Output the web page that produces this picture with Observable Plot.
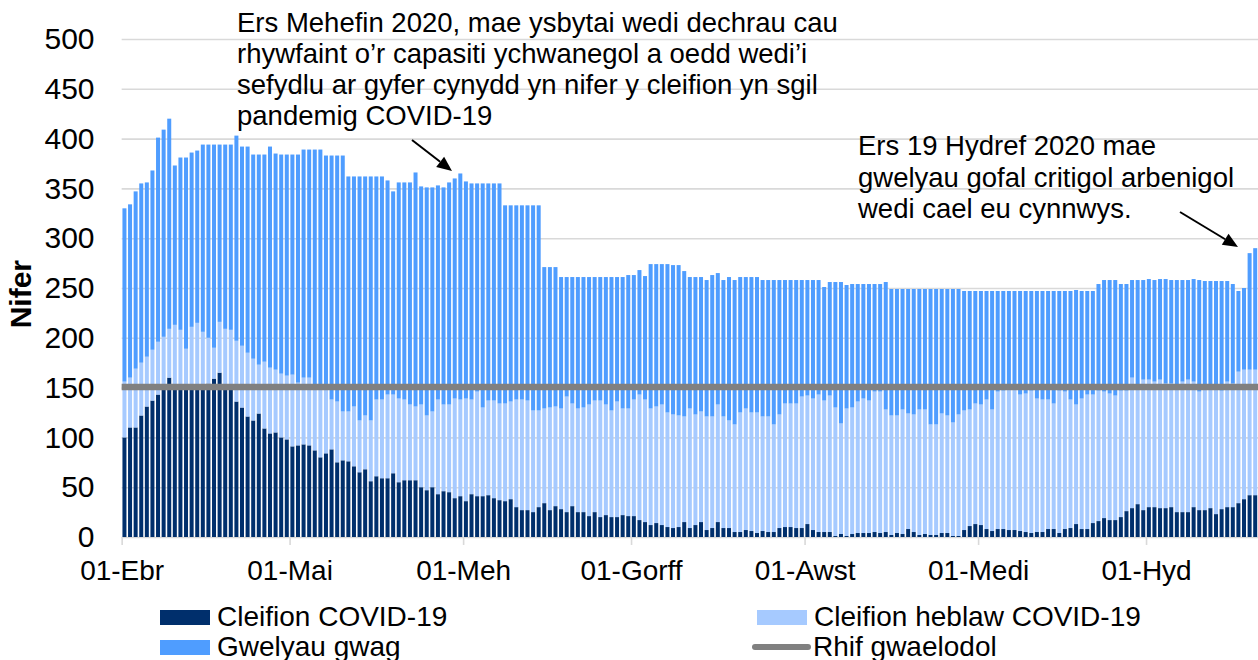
<!DOCTYPE html>
<html>
<head>
<meta charset="utf-8">
<script src="https://cdn.jsdelivr.net/npm/d3@7"></script>
<script src="https://cdn.jsdelivr.net/npm/@observablehq/plot@0.6"></script>
<style>
  html, body { margin: 0; padding: 0; background: #fff; }
  #wrap { width: 1258px; height: 660px; overflow: hidden; font-family: 'Liberation Sans', Arial, sans-serif; }
  svg { display: block; }
</style>
</head>
<body>
<div id="wrap"></div>
<script>
// ---- Data ----
const startDay = "2020-04-01";
const seriesNames = ["Cleifion COVID-19", "Cleifion heblaw COVID-19", "Gwelyau gwag"];
const seriesColors = ["#002f6c", "#a6caff", "#4f9dff"];
const baselineLabel = "Rhif gwaelodol";
const rhifGwaelodol = 151;

// COVID-19 patients per day
const covid = [
  100,110,110,122,131,137,143,150,160,152,
  150,153,151,149,152,154,159,165,153,150,
  136,130,121,117,124,109,104,105,100,98,
  91,92,93,92,87,80,84,88,75,77,
  76,71,65,68,56,61,59,59,64,55,
  57,57,57,50,47,50,43,46,45,39,
  41,36,43,41,41,42,39,37,36,38,
  30,27,27,25,30,34,27,31,28,25,
  31,25,25,21,25,20,22,20,20,22,
  21,21,17,15,12,14,12,10,9,10,
  15,9,12,15,7,9,15,9,9,5,
  5,7,6,4,6,5,5,9,10,10,
  9,9,13,7,5,5,5,1,3,1,
  3,4,4,4,5,4,5,2,4,3,
  8,5,2,3,2,2,4,4,1,1,
  7,11,13,12,8,6,8,8,7,7,
  6,5,4,5,5,8,8,4,8,9,
  13,8,8,14,16,19,17,17,20,26,
  29,33,27,30,30,29,29,30,25,25,
  25,30,27,27,29,23,28,30,30,34,
  38,42,42
];
// All occupied beds (COVID-19 + non COVID-19 patients)
const occupied = [
  156,160,169,175,181,188,196,201,209,213,
  208,189,211,215,206,200,190,216,209,208,
  197,192,185,179,173,176,170,168,164,162,
  163,155,160,160,153,153,148,138,136,126,
  126,131,117,122,117,138,138,143,143,139,
  138,133,131,133,122,126,138,133,133,139,
  138,139,138,146,130,137,137,134,134,136,
  138,138,137,127,127,129,130,131,129,141,
  134,129,130,133,137,137,133,127,136,129,
  129,138,143,138,129,131,133,125,123,122,
  121,129,123,126,121,121,133,121,117,113,
  125,129,125,125,121,121,113,123,134,134,
  134,141,142,139,143,137,142,130,114,129,
  130,136,139,137,146,146,128,122,122,128,
  124,123,128,128,113,113,124,122,115,123,
  127,128,134,133,138,128,146,147,149,149,
  143,144,147,139,138,138,134,147,146,138,
  133,139,143,143,147,146,144,142,147,147,
  160,149,158,158,156,158,154,154,153,156,
  158,156,146,153,153,153,147,156,154,166,
  168,168,168
];
// Total bed capacity (occupied + empty)
const capacity = [
  330,334,347,355,356,368,401,409,420,373,
  381,381,386,388,394,394,394,394,394,394,
  403,392,392,384,384,384,392,385,384,384,
  384,384,389,389,389,389,383,383,383,383,
  362,362,362,362,362,362,362,358,347,356,
  356,356,366,352,351,351,353,351,356,360,
  365,357,355,355,355,355,355,355,333,333,
  333,333,333,333,333,271,271,271,261,261,
  261,261,261,261,261,261,261,261,261,261,
  263,263,268,262,274,274,274,274,273,273,
  267,261,261,261,258,263,265,258,261,258,
  261,261,261,261,258,258,258,258,258,258,
  258,258,258,258,258,251,256,256,256,253,
  254,254,254,254,254,254,256,249,249,249,
  249,249,249,249,249,249,249,249,249,249,
  247,247,247,247,247,247,247,247,247,247,
  247,247,247,247,247,247,247,247,247,247,
  248,247,247,247,254,258,258,258,254,254,
  258,258,258,259,258,259,259,258,258,258,
  258,259,258,257,257,257,257,257,254,247,
  250,285,290
];

const tickDates = ["2020-04-01","2020-05-01","2020-06-01","2020-07-01","2020-08-01","2020-09-01","2020-10-01"];
const tickLabels = ["01-Ebr","01-Mai","01-Meh","01-Gorff","01-Awst","01-Medi","01-Hyd"];
const yTicks = [0,50,100,150,200,250,300,350,400,450,500];

const note1 = ["Ers Mehefin 2020, mae ysbytai wedi dechrau cau",
               "rhywfaint o’r capasiti ychwanegol a oedd wedi’i",
               "sefydlu ar gyfer cynydd yn nifer y cleifion yn sgil",
               "pandemig COVID-19"];
const note2 = ["Ers 19 Hydref 2020 mae",
               "gwelyau gofal critigol arbenigol",
               "wedi cael eu cynnwys."];

// ---- Build table ----
const start = new Date(startDay + "T00:00:00Z");
const dates = covid.map((_, i) => d3.utcDay.offset(start, i));
const end = d3.utcDay.offset(start, covid.length);
const rows = [];
dates.forEach((d, i) => {
  rows.push({date: d, series: seriesNames[0], value: covid[i]});
  rows.push({date: d, series: seriesNames[1], value: occupied[i] - covid[i]});
  rows.push({date: d, series: seriesNames[2], value: capacity[i] - occupied[i]});
});
const monthTicks = tickDates.map((t, i) => ({date: new Date(t + "T00:00:00Z"), label: tickLabels[i]}));

const FONT = "'Liberation Sans', Arial, sans-serif";

const chart = Plot.plot({
  width: 1258,
  height: 598,
  marginLeft: 121.65,
  marginRight: 0,
  marginTop: 39,
  marginBottom: 61,
  style: {fontFamily: FONT, background: "white", overflow: "visible", color: "black"},
  x: {type: "utc", domain: [start, end], axis: null},
  y: {domain: [0, 500], axis: null},
  color: {domain: seriesNames, range: seriesColors},
  marks: [
    Plot.ruleY(yTicks, {stroke: "#d9d9d9", strokeWidth: 1.6}),
    Plot.rectY(rows, {x: "date", interval: d3.utcDay, y: "value", fill: "series", insetLeft: 0.8, insetRight: 0.8}),
    Plot.ruleY([rhifGwaelodol], {stroke: "#808080", strokeWidth: 6.5}),
    Plot.ruleX(monthTicks, {x: "date", y1: 0, y2: -8, stroke: "#d9d9d9", strokeWidth: 1.6}),
    Plot.text(yTicks, {y: d => d, text: d => String(d), frameAnchor: "left", dx: -27.6, textAnchor: "end", fontSize: 30, fill: "black"}),
    Plot.text(monthTicks, {x: "date", y: 0, text: "label", dy: 34, fontSize: 28, fill: "black"}),
    Plot.text(["Nifer"], {frameAnchor: "left", y: 210, dx: -100.6, rotate: -90, fontSize: 30, fontWeight: "bold", fill: "black"})
  ]
});
document.getElementById("wrap").appendChild(chart);

// ---- Annotations ----
const svg = d3.select(chart);
const ann = svg.append("g").attr("font-family", FONT).attr("font-size", 27.5)
  .attr("fill", "black").attr("text-anchor", "start");
note1.forEach((t, i) => ann.append("text").attr("x", 237).attr("y", 32 + 31 * i).text(t));
note2.forEach((t, i) => ann.append("text").attr("x", 858).attr("y", 155 + 31.5 * i).text(t));

function arrow(x1, y1, x2, y2) {
  const a = Math.atan2(y2 - y1, x2 - x1), L = 15, W = 6.5;
  const bx = x2 - L * Math.cos(a), by = y2 - L * Math.sin(a);
  svg.append("line").attr("x1", x1).attr("y1", y1).attr("x2", bx).attr("y2", by)
    .attr("stroke", "black").attr("stroke-width", 2);
  const px = -Math.sin(a) * W, py = Math.cos(a) * W;
  svg.append("path").attr("d", `M${x2},${y2}L${bx + px},${by + py}L${bx - px},${by - py}Z`).attr("fill", "black");
}
arrow(412, 140, 452, 171);
arrow(1180, 212, 1238, 247);

// ---- Legend below the chart ----
const leg = d3.select("#wrap").append("svg").attr("width", 1258).attr("height", 62)
  .attr("font-family", FONT).attr("font-size", 28).attr("text-anchor", "start");
const items = [
  {type: "rect", color: seriesColors[0], label: seriesNames[0], x: 160, row: 0},
  {type: "rect", color: seriesColors[1], label: seriesNames[1], x: 757, row: 0},
  {type: "rect", color: seriesColors[2], label: seriesNames[2], x: 160, row: 1},
  {type: "line", color: "#808080", label: baselineLabel, x: 755, row: 1}
];
items.forEach(it => {
  const top = 12 + it.row * 30;
  if (it.type === "rect") {
    leg.append("rect").attr("x", it.x).attr("y", top).attr("width", 50).attr("height", 15).attr("fill", it.color);
    leg.append("text").attr("x", it.x + 57).attr("y", top + 16).text(it.label);
  } else {
    leg.append("line").attr("x1", it.x).attr("x2", it.x + 53).attr("y1", top + 7).attr("y2", top + 7)
      .attr("stroke", it.color).attr("stroke-width", 6).attr("stroke-linecap", "round");
    leg.append("text").attr("x", it.x + 58).attr("y", top + 16).text(it.label);
  }
});
</script>
</body>
</html>
